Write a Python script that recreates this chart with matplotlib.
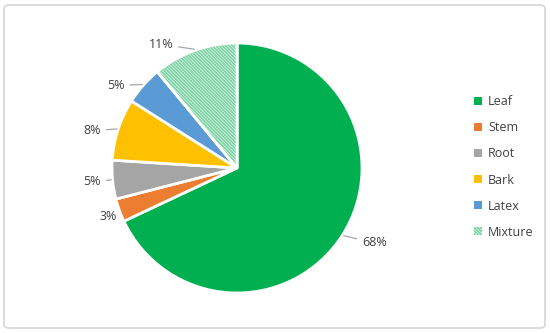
import numpy as np
import matplotlib.pyplot as plt
from matplotlib.patches import Wedge, FancyBboxPatch, Patch

plt.rcParams['font.family'] = ['Open Sans', 'DejaVu Sans']
plt.rcParams['hatch.linewidth'] = 1.3

labels = ['Leaf', 'Stem', 'Root', 'Bark', 'Latex', 'Mixture']
values = [68, 3, 5, 8, 5, 11]
pct_text = ['68%', '3%', '5%', '8%', '5%', '11%']
colors = ['#00B050', '#ED7D31', '#A5A5A5', '#FFC000', '#5B9BD5', 'white']
# where the percentage labels sit (axes data units, pie radius = 1)
label_pos = [(1.10, -0.60), (-1.03, -0.39), (-1.16, -0.11),
             (-1.16, 0.30), (-0.97, 0.66), (-0.61, 0.99)]
leader = [True, False, True, True, True, True]
mix_hatch = '\\' * 10

fig = plt.figure(figsize=(5.5, 3.33), dpi=100)
fig.patches.append(FancyBboxPatch((4 / 550, 5 / 333), 541 / 550, 323 / 333,
                                  boxstyle='round,pad=0,rounding_size=0.01',
                                  transform=fig.transFigure, fc='white',
                                  ec='#D9D9D9', lw=1.3, zorder=-1))

ax = fig.add_axes([112 / 550, 40 / 333, 250 / 550, 250 / 333])
wedges, _ = ax.pie(values, colors=colors, startangle=90, counterclock=False,
                   radius=1, wedgeprops=dict(edgecolor='white', linewidth=2))

# hatch for Mixture
mix = wedges[-1]
hatch = Wedge(mix.center, mix.r, mix.theta1, mix.theta2, facecolor='none',
              edgecolor='#7ED3A5', linewidth=0, hatch=mix_hatch, zorder=1)
ax.add_patch(hatch)
outline = Wedge(mix.center, mix.r, mix.theta1, mix.theta2, facecolor='none',
                edgecolor='white', linewidth=2, zorder=2)
ax.add_patch(outline)

for w, txt, pos, ld in zip(wedges, pct_text, label_pos, leader):
    mid = np.deg2rad((w.theta1 + w.theta2) / 2)
    edge = (1.01 * np.cos(mid), 1.01 * np.sin(mid))
    if ld:
        ax.annotate(txt, xy=edge, xytext=pos, ha='center', va='center',
                    fontsize=9, color='#404040', annotation_clip=False,
                    arrowprops=dict(arrowstyle='-', color='#A6A6A6', lw=0.9,
                                    shrinkA=2, shrinkB=0))
    else:
        ax.text(pos[0], pos[1], txt, ha='center', va='center', fontsize=9,
                color='#404040')

ax.set_xlim(-1, 1)
ax.set_ylim(-1, 1)
ax.set_aspect('equal')
ax.axis('off')

handles = [Patch(facecolor=c, edgecolor='none') for c in colors[:-1]]
handles.append(Patch(facecolor='white', edgecolor='#7ED3A5', lw=0, hatch=mix_hatch))
leg = fig.legend(handles, labels, loc='center left',
                 bbox_to_anchor=(463 / 550, 166 / 333), frameon=False,
                 fontsize=9, handlelength=0.6, handleheight=0.6,
                 handletextpad=0.5, labelspacing=1.05, labelcolor='#404040')

fig.savefig('out.png', dpi=100)
